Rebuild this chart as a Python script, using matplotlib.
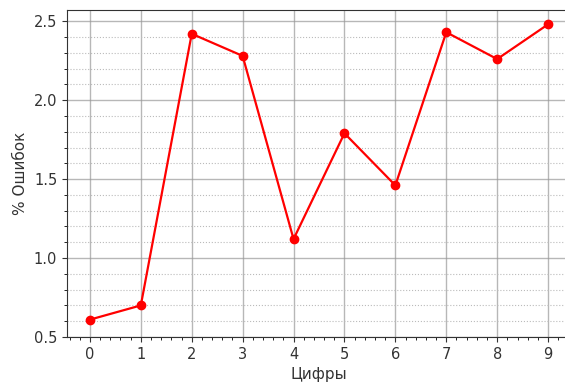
import matplotlib
matplotlib.use("Agg")
import matplotlib.pyplot as plt
from matplotlib.ticker import AutoMinorLocator, MultipleLocator

digits = [0, 1, 2, 3, 4, 5, 6, 7, 8, 9]
err_pct = [0.61, 0.70, 2.42, 2.28, 1.12, 1.79, 1.46, 2.43, 2.26, 2.48]

fig = plt.figure(figsize=(5.65, 3.85), dpi=100)
ax = fig.add_axes([0.1186, 0.1247, 0.892, 0.849])
ax.plot(digits, err_pct, "o-", color="red", lw=1.6, ms=6)
ax.set_xlim(-0.45, 9.45); ax.set_ylim(0.5, 2.57)
ax.set_xticks(digits)
ax.yaxis.set_major_locator(MultipleLocator(0.5))
ax.xaxis.set_minor_locator(AutoMinorLocator(5))
ax.yaxis.set_minor_locator(AutoMinorLocator(5))
ax.grid(which="major", color="#999999", lw=1.0, alpha=0.7)
ax.grid(which="minor", axis="y", color="#bbbbbb", lw=0.8, ls=":")
ax.tick_params(labelsize=10.5, colors="#333333")
ax.set_xlabel("Цифры", fontsize=11, color="#333333")
ax.set_ylabel("% Ошибок", fontsize=11, color="#333333")
for s in ax.spines.values():
    s.set_color("#333333")
ax.spines["right"].set_visible(False)  # cropped off in the reference
fig.savefig("out.png", dpi=100)
